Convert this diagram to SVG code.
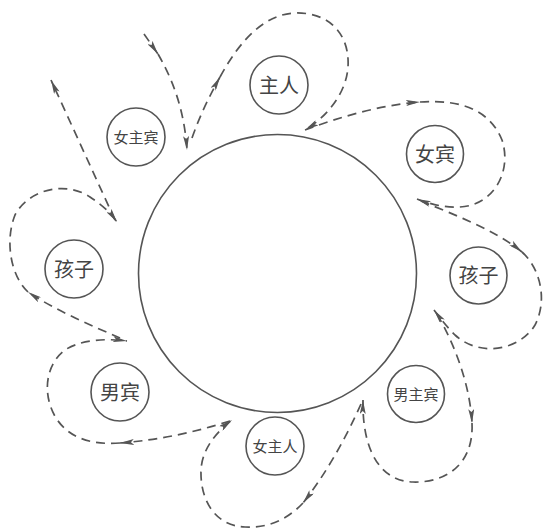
<svg xmlns="http://www.w3.org/2000/svg" width="545" height="530" viewBox="0 0 545 530">
<style>
.node circle{fill:none;stroke:#555;stroke-width:1.6}
.node text{font-family:"Noto Sans CJK SC","Noto Sans",sans-serif;fill:#444;text-anchor:middle}
.big{font-size:20px}
.small{font-size:15px}
#connectors path{fill:none;stroke:#555;stroke-width:1.7;stroke-dasharray:9 6;marker-end:url(#arr)}
</style>
<defs>
<marker id="arr" markerUnits="userSpaceOnUse" viewBox="0 0 14 6" refX="14" refY="3" markerWidth="14" markerHeight="6" orient="auto">
<path d="M0,0 L14,3 L0,6 L3,3 z" fill="#555"/>
</marker>
</defs>
<rect width="545" height="530" fill="#fff"/>
<g id="hall" class="node"><circle cx="277.5" cy="273.5" r="139"/></g>
<g id="zhuren" class="node"><circle cx="279" cy="85" r="29"/><text class="big" x="279" y="92.6">主人</text></g>
<g id="nvzhubin" class="node"><circle cx="136" cy="137" r="29"/><text class="small" x="136" y="142.7">女主宾</text></g>
<g id="nvbin" class="node"><circle cx="435" cy="154" r="28.5"/><text class="big" x="435" y="161.6">女宾</text></g>
<g id="haiziL" class="node"><circle cx="74" cy="269" r="29"/><text class="big" x="74" y="276.6">孩子</text></g>
<g id="haiziR" class="node"><circle cx="478.5" cy="275.5" r="28.5"/><text class="big" x="478.5" y="283.1">孩子</text></g>
<g id="nanbin" class="node"><circle cx="120" cy="392" r="29"/><text class="big" x="120" y="399.6">男宾</text></g>
<g id="nanzhubin" class="node"><circle cx="416" cy="394" r="28.5"/><text class="small" x="416" y="399.7">男主宾</text></g>
<g id="nvzhuren" class="node"><circle cx="275" cy="446" r="29"/><text class="small" x="275" y="451.7">女主人</text></g>
<g id="connectors">
<path d="M144,34 L158,54"/>
<path d="M158,54 C170,75 184,105 187,150"/>
<path d="M192,138 C200,115 210,95 220,77"/>
<path d="M220,77 C240,40 265,14 295,13 C330,12 350,35 348,67 C346,95 325,118 305,130"/>
<path d="M305,130 C340,117 380,105 420,102"/>
<path d="M420,102 C460,99 490,110 502,140 C512,170 495,205 460,207 C445,208 430,204 417,199"/>
<path d="M421,201 C455,215 495,230 522,252"/>
<path d="M522,252 C540,268 548,300 535,325 C520,350 480,358 455,335 C447,327 440,318 434,310"/>
<path d="M437,314 C455,345 470,385 472,423"/>
<path d="M472,423 C474,465 445,483 413,482 C380,481 362,450 363,400"/>
<path d="M361,404 C345,440 325,475 303,503"/>
<path d="M303,503 C285,522 265,528 245,527 C215,526 200,500 201,470 C202,450 215,433 232,420"/>
<path d="M230,421 C195,432 160,440 120,443"/>
<path d="M120,443 C95,445 70,440 56,418 C42,395 45,365 65,350 C80,340 105,338 127,341"/>
<path d="M120,338 C90,325 55,310 28,292"/>
<path d="M28,292 C10,275 5,240 15,215 C28,190 65,180 90,197 C102,205 110,212 117,222"/>
<path d="M115,220 L51,80"/>
</g>
</svg>
